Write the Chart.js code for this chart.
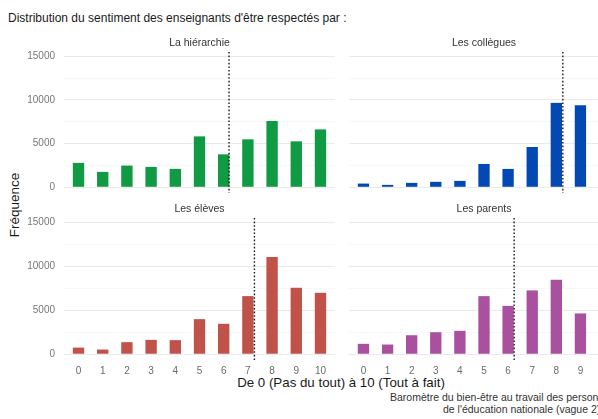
<!DOCTYPE html>
<html>
<head>
<meta charset="utf-8">
<script src="https://cdn.jsdelivr.net/npm/chart.js@4"></script>
<style>
    html, body {
        margin: 0;
        padding: 0;
        width: 598px;
        height: 419px;
        overflow: hidden;
        background: #ffffff;
        font-family: "Liberation Sans", Arial, sans-serif;
    }
    .pos { position: absolute; white-space: nowrap; }
    canvas { position: absolute; }
    #titre { left: 8px; top: 11px; font-size: 12px; color: #1a1a1a; }
    #ytitre { left: 14px; top: 205px; font-size: 13.5px; color: #1a1a1a; transform: translate(-50%, -50%) rotate(-90deg); }
    #xtitre { left: 341px; top: 375px; font-size: 13.3px; color: #1a1a1a; transform: translateX(-50%); }
    .source { font-size: 10.5px; line-height: 12px; color: #333; }
    #source1 { left: 390px; top: 391px; }
    #source2 { left: 443px; top: 403px; }
</style>
</head>
<body>
<div id="titre" class="pos">Distribution du sentiment des enseignants d'être respectés par :</div>
<div id="ytitre" class="pos">Fréquence</div>
<div id="xtitre" class="pos">De 0 (Pas du tout) à 10 (Tout à fait)</div>
<div id="source1" class="pos source">Baromètre du bien-être au travail des personnels</div>
<div id="source2" class="pos source">de l'éducation nationale (vague 2)</div>

<canvas id="panelHierarchie" width="315" height="179" style="left:20px; top:30px;"></canvas>
<canvas id="panelCollegues" width="270" height="179" style="left:349px; top:30px;"></canvas>
<canvas id="panelEleves" width="315" height="184" style="left:20px; top:196px;"></canvas>
<canvas id="panelParents" width="270" height="184" style="left:349px; top:196px;"></canvas>

<script>
// ==================== DATA ====================
const categories = [0, 1, 2, 3, 4, 5, 6, 7, 8, 9, 10];
const hierarchie = [2790, 1760, 2480, 2330, 2100, 5830, 3770, 5490, 7590, 5260, 6630];
const collegues = [420, 270, 500, 620, 730, 2670, 2100, 4610, 9670, 9410, 14700];
const eleves = [750, 530, 1370, 1630, 1600, 3990, 3460, 6610, 11060, 7560, 6990];
const parents = [1180, 1100, 2160, 2500, 2660, 6610, 5500, 7260, 8470, 4640, 3900];
const moyennes = [6.22, 8.27, 7.27, 6.25];
const panelLabels = ['La hiérarchie', 'Les collègues', 'Les élèves', 'Les parents'];
const yTicks = [0, 2500, 5000, 7500, 10000, 12500, 15000];

// ==================== PLUGINS ====================
const stripPlugin = {
    id: 'strip',
    afterDraw: (chart, args, opts) => {
        const { ctx, chartArea } = chart;
        ctx.save();
        ctx.font = '10.5px "Liberation Sans", Arial, sans-serif';
        ctx.fillStyle = '#333333';
        ctx.textAlign = 'center';
        ctx.textBaseline = 'middle';
        ctx.fillText(opts.text, (chartArea.left + chartArea.right) / 2, chartArea.top - 9);
        ctx.restore();
    }
};

const meanLinePlugin = {
    id: 'meanLine',
    afterDatasetsDraw: (chart, args, opts) => {
        const { ctx, chartArea, scales } = chart;
        const x = scales.x.getPixelForValue(opts.value);
        ctx.save();
        ctx.strokeStyle = '#1a1a1a';
        ctx.lineWidth = 1.4;
        ctx.setLineDash([1.6, 2]);
        ctx.beginPath();
        ctx.moveTo(x, chartArea.top);
        ctx.lineTo(x, chartArea.bottom);
        ctx.stroke();
        ctx.restore();
    }
};

// ==================== BUILD PANEL ====================
// top panels keep an empty x axis (16px) so the y labels do not eat the plot height
const buildPanel = (canvasId, values, color, index, showY, showX) => {
    const ctx = document.getElementById(canvasId).getContext('2d');
    return new Chart(ctx, {
        type: 'bar',
        data: {
            datasets: [{
                data: categories.map((c, i) => ({ x: c, y: values[i] })),
                backgroundColor: color,
                borderWidth: 0,
                barPercentage: 0.47,
                categoryPercentage: 1
            }]
        },
        options: {
            responsive: false,
            animation: false,
            layout: {
                autoPadding: false,
                padding: { top: 22, bottom: 0, left: 0, right: 0 }
            },
            plugins: {
                legend: { display: false },
                tooltip: { enabled: false },
                strip: { text: panelLabels[index] },
                meanLine: { value: moyennes[index] }
            },
            scales: {
                x: {
                    type: 'linear',
                    offset: false,
                    min: -0.6,
                    max: 10.6,
                    afterBuildTicks: s => { s.ticks = categories.map(v => ({ value: v })); },
                    afterFit: s => { s.height = showX ? 20 : 16; },
                    grid: { display: false, drawTicks: false },
                    border: { display: false },
                    ticks: {
                        display: showX,
                        padding: 5,
                        color: '#6b6b6b',
                        font: { size: 10, family: '"Liberation Sans", Arial, sans-serif' },
                        callback: v => String(v)
                    }
                },
                y: {
                    min: -660,
                    max: 15500,
                    afterBuildTicks: s => { s.ticks = yTicks.map(v => ({ value: v })); },
                    afterFit: s => { s.width = showY ? 44 : 0; },
                    grid: {
                        drawTicks: false,
                        color: c => (c.tick && c.tick.value % 5000 === 0) ? '#e8e8e8' : '#f3f3f3',
                        lineWidth: c => (c.tick && c.tick.value % 5000 === 0) ? 0.9 : 0.6
                    },
                    border: { display: false },
                    ticks: {
                        display: showY,
                        padding: 9,
                        color: '#777777',
                        font: { size: 10, family: '"Liberation Sans", Arial, sans-serif' },
                        callback: v => (v % 5000 === 0 ? String(v) : '')
                    }
                }
            }
        },
        plugins: [stripPlugin, meanLinePlugin]
    });
};

// ==================== INITIALIZE ====================
buildPanel('panelHierarchie', hierarchie, '#119a44', 0, true, false);
buildPanel('panelCollegues', collegues, '#0449b3', 1, false, false);
buildPanel('panelEleves', eleves, '#c0524a', 2, true, true);
buildPanel('panelParents', parents, '#a9509f', 3, false, true);
</script>
</body>
</html>
